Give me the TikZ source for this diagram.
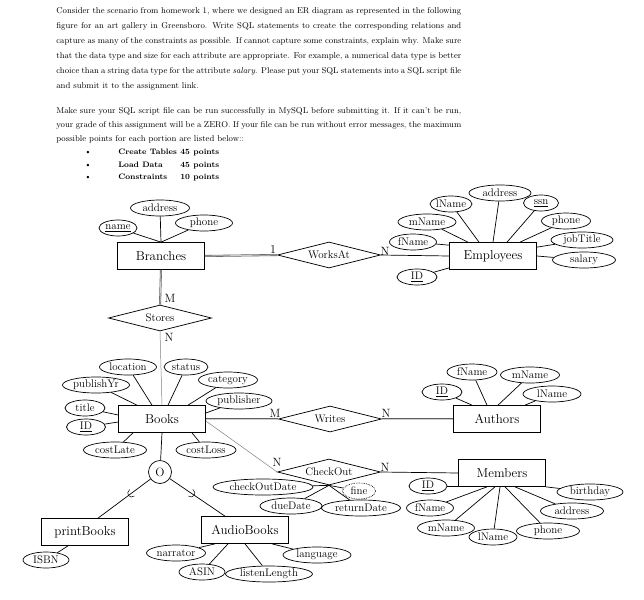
\documentclass[tikz,border=0pt]{standalone}
\usetikzlibrary{shapes.geometric,calc}
\newcommand{\jline}[1]{\makebox[405pt][s]{#1}}
\begin{document}
\begin{tikzpicture}[x=1pt, y=-1pt, line width=0.7pt,
    entity/.style={draw, minimum width=87pt, minimum height=27pt, inner sep=0pt, font=\fontsize{13}{15}\selectfont},
    relation/.style={draw, diamond, aspect=4, minimum width=103pt, minimum height=26pt, inner sep=0pt, font=\fontsize{11}{13}\selectfont},
    attr/.style={draw, ellipse, minimum height=16pt, inner xsep=-4pt, inner ysep=0pt, font=\fontsize{11}{13}\selectfont},
    derived/.style={attr, densely dotted},
    card/.style={inner sep=0pt, font=\fontsize{12}{14}\selectfont},
    total/.style={draw=gray!75!black, double=gray!40, double distance=0.8pt, line width=0.6pt},
    partial/.style={gray, line width=0.5pt},
    txt/.style={inner sep=0pt, font=\fontsize{8.5}{15.1}\selectfont},
    listitem/.style={inner sep=0pt, font=\fontsize{7.9}{10}\selectfont\bfseries},
  ]
  \useasboundingbox (0,0) rectangle (644,599);

  % Text above the diagram
  \node[txt, align=left, anchor=north west] (para1) at (56,7) {\jline{Consider the scenario from homework 1, where we designed an ER diagram as represented in the following}\\
    \jline{figure for an art gallery in Greensboro.  Write SQL statements to create the corresponding relations and}\\
    \jline{capture as many of the constraints as possible.  If cannot capture some constraints, explain why. Make sure}\\
    \jline{that the data type and size for each attribute are appropriate.  For example, a numerical data type is better}\\
    \jline{choice than a string data type for the attribute \textit{salary}.  Please put your SQL statements into a SQL script file}\\
    and submit it to the assignment link.};
  \node[txt, align=left, anchor=north west, font=\fontsize{8.5}{14}\selectfont] (para2) at (56,107) {\jline{Make sure your SQL script file can be run successfully in MySQL before submitting it. If it can’t be run,}\\
    \jline{your grade of this assignment will be a ZERO.  If your file can be run without error messages, the maximum}\\
    possible points for each portion are listed below::};
  % Points list
  \node[txt, anchor=base] (bul1) at (88,154.5) {\textbullet};
  \node[txt, anchor=base] (bul2) at (88,167) {\textbullet};
  \node[txt, anchor=base] (bul3) at (88,179.5) {\textbullet};
  \node[listitem, anchor=base west] (item1) at (118,154.5) {Create Tables};
  \node[listitem, anchor=base west] (item2) at (118,167) {Load Data};
  \node[listitem, anchor=base west] (item3) at (118,179.5) {Constraints};
  \node[listitem, anchor=base west] (pts1) at (180,154.5) {45 points};
  \node[listitem, anchor=base west] (pts2) at (180,167) {45 points};
  \node[listitem, anchor=base west] (pts3) at (180,179.5) {10 points};

  % Draw the entities
  \node[entity] (branches) at (161,256) {Branches};
  \node[entity] (employees) at (493,256) {Employees};
  \node[entity] (books) at (162,419) {Books};
  \node[entity] (authors) at (497,419) {Authors};
  \node[entity] (members) at (502,473) {Members};
  \node[entity] (printbooks) at (85,532) {printBooks};
  \node[entity] (audiobooks) at (245,530) {AudioBooks};

  % Draw the relationships
  \node[relation] (worksat) at (329,255) {WorksAt};
  \node[relation] (stores) at (160,318) {Stores};
  \node[relation] (writes) at (330,419) {Writes};
  \node[relation] (checkout) at (329,472) {CheckOut};
  \node[draw, circle, minimum size=23pt, inner sep=0pt, font=\fontsize{12}{14}\selectfont] (o) at (160,472) {O};

  % Branches attributes
  \node[attr, minimum width=59pt] (baddress) at (160,208) {address};
  \node[attr, minimum width=38pt] (bname) at (118,228) {\underline{name}};
  \node[attr, minimum width=57pt] (bphone) at (204,223) {phone};
  \draw (baddress) -- (branches.north);
  \draw (bname) -- (branches.north);
  \draw (bphone) -- (branches.north);

  % Employees attributes
  \node[attr, minimum width=62pt] (eaddress) at (500,193) {address};
  \node[attr, minimum width=42pt] (elname) at (451,204) {lName};
  \node[attr, minimum width=35pt] (essn) at (541,203) {\underline{ssn}};
  \node[attr, minimum width=58pt] (emname) at (427,222) {mName};
  \node[attr, minimum width=49pt] (ephone) at (566,221) {phone};
  \node[attr, minimum width=47pt] (efname) at (413,242) {fName};
  \node[attr, minimum width=62pt] (ejobtitle) at (582,240) {jobTitle};
  \node[attr, minimum width=63pt] (esalary) at (584,260) {salary};
  \node[attr, minimum width=40pt] (eid) at (417,277) {\underline{ID}};
  \draw (eaddress) -- (employees.north);
  \draw (elname) -- ([xshift=-14pt]employees.north);
  \draw (essn) -- ([xshift=14pt]employees.north);
  \draw (emname) -- ([xshift=-25pt]employees.north);
  \draw (ephone) -- ([xshift=27pt]employees.north);
  \draw (efname) -- ([yshift=-3pt]employees.north west);
  \draw (ejobtitle) -- ([yshift=-5pt]employees.north east);
  \draw (esalary) -- (employees.east);
  \draw (eid) -- ([yshift=2pt]employees.south west);

  % Books attributes
  \node[attr, minimum width=57pt] (blocation) at (128,367) {location};
  \node[attr, minimum width=44pt] (bstatus) at (186,367) {status};
  \node[attr, minimum width=59pt] (bcategory) at (228,380) {category};
  \node[attr, minimum width=67pt] (bpublishyr) at (96,385) {publishYr};
  \node[attr, minimum width=66pt] (bpublisher) at (239,401) {publisher};
  \node[attr, minimum width=40pt] (btitle) at (85,408) {title};
  \node[attr, minimum width=39pt] (bid) at (86,427) {\underline{ID}};
  \node[attr, minimum width=63pt] (bcostlate) at (115,450) {costLate};
  \node[attr, minimum width=60pt] (bcostloss) at (206,450) {costLoss};
  \draw (blocation) -- ([xshift=-10pt]books.north);
  \draw (bstatus) -- ([xshift=6pt]books.north);
  \draw (bcategory) -- ([xshift=26pt]books.north);
  \draw (bpublishyr) -- ([xshift=-25pt]books.north);
  \draw (bpublisher) -- ([yshift=6pt]books.east);
  \draw (btitle) -- ([yshift=4pt]books.west);
  \draw (bid) -- ([yshift=-3pt]books.west);
  \draw (bcostlate) -- ([xshift=-29pt]books.south);
  \draw (bcostloss) -- ([xshift=30pt]books.south);

  % Authors attributes
  \node[attr, minimum width=40pt] (aid) at (442,392) {\underline{ID}};
  \node[attr, minimum width=50pt] (afname) at (472,372) {fName};
  \node[attr, minimum width=59pt] (amname) at (530,375) {mName};
  \node[attr, minimum width=58pt] (alname) at (552,394) {lName};
  \draw (aid) -- ([xshift=-25pt]authors.north);
  \draw (afname) -- ([xshift=-10pt]authors.north);
  \draw (amname) -- ([xshift=1pt]authors.north);
  \draw (alname) -- ([xshift=28pt]authors.north);

  % CheckOut attributes
  \node[attr, minimum width=100pt] (ccheckoutdate) at (263,487) {checkOutDate};
  \node[derived, minimum width=33pt] (cfine) at (359,491) {fine};
  \node[attr, minimum width=62pt] (cduedate) at (291,506) {dueDate};
  \node[attr, minimum width=79pt] (creturndate) at (361,508) {returnDate};
  \draw (ccheckoutdate) -- (checkout.south);
  \draw (cfine) -- (checkout.south);
  \draw (cduedate) -- (checkout.south);
  \draw (creturndate) -- (checkout.south);

  % Members attributes
  \node[attr, minimum width=38pt] (mid) at (428,486) {\underline{ID}};
  \node[attr, minimum width=47pt] (mfname) at (430,508) {fName};
  \node[attr, minimum width=57pt] (mmname) at (446,528) {mName};
  \node[attr, minimum width=48pt] (mlname) at (493,537) {lName};
  \node[attr, minimum width=63pt] (mphone) at (548,531) {phone};
  \node[attr, minimum width=63pt] (maddress) at (572,511) {address};
  \node[attr, minimum width=66pt] (mbirthday) at (590,492) {birthday};
  \draw (mid) -- ([yshift=-13pt]members.west);
  \draw (mfname) -- ([xshift=-15pt]members.south);
  \draw (mmname) -- ([xshift=-7pt]members.south);
  \draw (mlname) -- ([xshift=-2pt]members.south);
  \draw (mphone) -- ([xshift=3pt]members.south);
  \draw (maddress) -- ([xshift=13pt]members.south);
  \draw (mbirthday) -- (members.south east);

  % Subclass attributes
  \node[attr, minimum width=46pt] (pisbn) at (46,560) {ISBN};
  \node[attr, minimum width=59pt] (anarrator) at (176,553) {narrator};
  \node[attr, minimum width=46pt] (aasin) at (202,572) {ASIN};
  \node[attr, minimum width=87pt] (alistenlength) at (269,574) {listenLength};
  \node[attr, minimum width=68pt] (alanguage) at (317,555) {language};
  \draw (pisbn) -- ([xshift=-17pt]printbooks.south);
  \draw (anarrator) -- ([xshift=-30pt]audiobooks.south);
  \draw (aasin) -- ([xshift=-17pt]audiobooks.south);
  \draw (alistenlength) -- (audiobooks.south);
  \draw (alanguage) -- ([xshift=27pt]audiobooks.south);

  % Draw the relationship lines
  \draw[total] (branches.east) -- (worksat.west);
  \draw (worksat.east) -- (employees.west);
  \draw[total] (branches.south) -- (stores.north);
  \draw[partial] (stores.south) -- (books.north);
  \draw[total] (books.east) -- (writes.west);
  \draw[total] (writes.east) -- (authors.west);
  \draw[partial] ([yshift=-2pt]books.east) -- (checkout.west);
  \draw (checkout.east) -- (members.west);

  % Specialization
  \coordinate (pbtop) at ([xshift=13pt]printbooks.north);
  \coordinate (abtop) at ([xshift=-20pt]audiobooks.north);
  \draw (books.south) -- (o);
  \draw (o) -- (pbtop);
  \draw (o) -- (abtop);
  \coordinate (s1) at ($(o)!0.45!(pbtop)$);
  \coordinate (s2) at ($(o)!0.47!(abtop)$);
  \draw[line width=0.5pt] ($(s1)!4pt!90:(o)$) .. controls ($(s1)!7.2pt!146.3:(o)$) and ($(s1)!7.2pt!-146.3:(o)$) .. ($(s1)!4pt!-90:(o)$);
  \draw[line width=0.5pt] ($(s2)!4pt!90:(o)$) .. controls ($(s2)!7.2pt!146.3:(o)$) and ($(s2)!7.2pt!-146.3:(o)$) .. ($(s2)!4pt!-90:(o)$);

  % Cardinality labels
  \node[card] (c1) at (273,250) {1};
  \node[card] (c2) at (385,251) {N};
  \node[card] (c3) at (170,298) {M};
  \node[card] (c4) at (169,337) {N};
  \node[card] (c5) at (275,413) {M};
  \node[card] (c6) at (386,413) {N};
  \node[card] (c7) at (277,462) {N};
  \node[card] (c8) at (385,467) {N};
\end{tikzpicture}
\end{document}
